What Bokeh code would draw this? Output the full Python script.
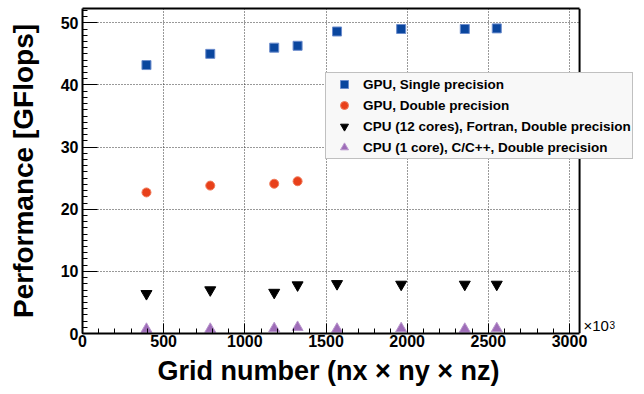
from bokeh.plotting import figure
from bokeh.models import (Range1d, FixedTicker, Legend, LegendItem, Label, LinearAxis,
                          Span, BoxAnnotation, Title)
from bokeh.embed import file_html
from bokeh.resources import INLINE

# Data (grid number in units of 10^3, performance in GFlops)
grid = [394, 787, 1181, 1325, 1568, 1963, 2355, 2552]
gpu_single = [43.2, 45.0, 46.0, 46.3, 48.6, 49.0, 49.0, 49.1]
grid_gpu_double = [394, 787, 1181, 1325]
gpu_double = [22.7, 23.8, 24.1, 24.5]
cpu12_fortran = [6.4, 7.0, 6.6, 7.8, 8.0, 7.9, 7.9, 7.9]
cpu1_c = [0.7, 0.7, 0.8, 1.0, 0.7, 0.8, 0.7, 0.8]

x_major = [0, 500, 1000, 1500, 2000, 2500, 3000]
x_minor = list(range(0, 3001, 100))
y_major = [0, 10, 20, 30, 40, 50]
y_minor = list(range(0, 53, 1))
x_axis_end = 3062      # right edge of the plotted area
y_axis_end = 52.3

labels = ["GPU, Single precision", "GPU, Double precision",
          "CPU (12 cores), Fortran, Double precision",
          "CPU (1 core), C/C++, Double precision"]
x_title = "Grid number (nx \u00d7 ny \u00d7 nz)"
y_title = "Performance [GFlops]"

FONT = "Liberation Sans"

# frame is extended to the right so that the legend can overhang the axes box
p = figure(width=644, height=394, output_backend="svg", toolbar_location=None,
           x_range=Range1d(0, 3462), y_range=Range1d(0, y_axis_end),
           min_border_left=82, min_border_right=0, min_border_top=8, min_border_bottom=61)

p.background_fill_color = "white"
p.border_fill_color = "white"
p.outline_line_color = None

p.xaxis.ticker = FixedTicker(ticks=x_major, minor_ticks=x_minor)
p.yaxis.ticker = FixedTicker(ticks=y_major, minor_ticks=y_minor)
p.xaxis.bounds = (0, x_axis_end)

for ax in (p.xaxis[0], p.yaxis[0]):
    ax.axis_line_color = "black"
    ax.axis_line_width = 2
    ax.major_tick_out = 0
    ax.minor_tick_out = 0
    ax.major_tick_line_color = "black"
    ax.minor_tick_line_color = "black"
    ax.major_tick_line_width = 1
    ax.minor_tick_line_width = 1
    ax.major_label_text_font = FONT
    ax.major_label_text_font_style = "bold"
    ax.major_label_text_font_size = "16px"
    ax.major_label_text_color = "black"
    ax.axis_label_text_font = FONT
    ax.axis_label_text_font_style = "bold"
    ax.axis_label_text_font_size = "28px"
    ax.axis_label_text_color = "black"

p.yaxis.major_tick_in = 15
p.yaxis.minor_tick_in = 5
p.xaxis.major_tick_in = 10
p.xaxis.minor_tick_in = 5
p.yaxis.major_label_standoff = 4
p.xaxis.major_label_standoff = 1
p.yaxis.axis_label = y_title
p.yaxis.axis_label_standoff = 19

# x title centred under the axes box (not under the extended frame)
p.add_layout(Title(text=x_title, align="left", offset=75, standoff=9,
                   text_font=FONT, text_font_style="bold", text_font_size="27px",
                   text_color="black"), "below")

# top edge of the axes box
top = LinearAxis(ticker=FixedTicker(ticks=[]), bounds=(0, x_axis_end),
                 axis_line_color="black", axis_line_width=2,
                 major_tick_in=0, major_tick_out=0, minor_tick_in=0, minor_tick_out=0,
                 major_label_text_font_size="0px", major_label_standoff=0)
p.add_layout(top, "above")

for g in (p.xgrid[0], p.ygrid[0]):
    g.grid_line_color = "#333333"
    g.grid_line_dash = "1 2"
    g.grid_line_width = 1

# blank out the part of the frame right of the axes box
p.add_layout(BoxAnnotation(left=x_axis_end, fill_color="white", fill_alpha=1.0,
                           line_color=None, level="underlay"))
p.add_layout(Span(location=x_axis_end, dimension="height", line_color="black",
                  line_width=2))

r1 = p.scatter(grid, gpu_single, marker="square", size=9, fill_color="#0a469e",
               line_color="#6b8ccc", line_width=1)
r2 = p.scatter(grid_gpu_double, gpu_double, marker="circle", size=9, fill_color="#e8401a",
               line_color="#f07a5a", line_width=1)
r3 = p.scatter(grid, cpu12_fortran, marker="inverted_triangle", size=11, fill_color="black",
               line_color="black", line_width=1)
r4 = p.scatter(grid, cpu1_c, marker="triangle", size=11, fill_color="#9e6cb8",
               line_color="#b896cc", line_width=1)

legend = Legend(items=[LegendItem(label=labels[0], renderers=[r1]),
                       LegendItem(label=labels[1], renderers=[r2]),
                       LegendItem(label=labels[2], renderers=[r3]),
                       LegendItem(label=labels[3], renderers=[r4])],
                location=(243, 174), padding=1, spacing=1, margin=0,
                glyph_width=34, glyph_height=20, label_height=20, label_standoff=2,
                label_text_font=FONT, label_text_font_style="bold",
                label_text_font_size="13.5px", label_text_color="black",
                border_line_color="#888888", border_line_width=1,
                background_fill_color="#f8f8f8", background_fill_alpha=1.0)
p.add_layout(legend, "center")

p.add_layout(Label(x=501, y=0, x_units="screen", y_units="screen", text="\u00d710",
                   text_font=FONT, text_font_size="15px", text_color="black",
                   text_baseline="bottom", text_align="left"))
p.add_layout(Label(x=527, y=5, x_units="screen", y_units="screen", text="3",
                   text_font=FONT, text_font_size="10px", text_color="black",
                   text_baseline="bottom", text_align="left"))

open("out.html", "w").write(file_html(p, INLINE))
